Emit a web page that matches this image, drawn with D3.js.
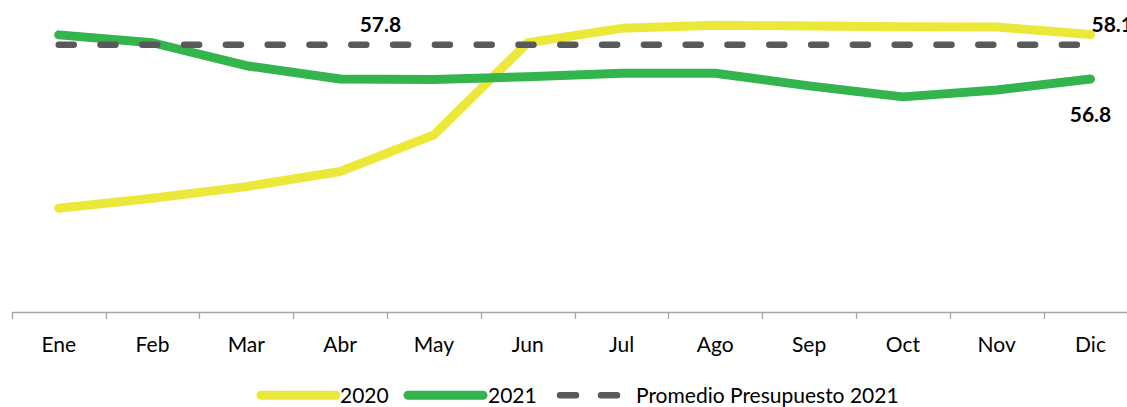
<!DOCTYPE html>
<html>
<head>
<meta charset="utf-8">
<script src="https://cdn.jsdelivr.net/npm/d3@7"></script>
<style>
  html, body { margin: 0; padding: 0; background: #fff; }
  svg { display: block; }
  text { font-family: Lato, "Open Sans", sans-serif; fill: #000; }
</style>
</head>
<body>
<svg id="chart" width="1127" height="407"></svg>
<script>
const months = ["Ene","Feb","Mar","Abr","May","Jun","Jul","Ago","Sep","Oct","Nov","Dic"];
const values2020 = [53.03, 53.32, 53.66, 54.10, 55.17, 57.86, 58.28, 58.37, 58.35, 58.33, 58.32, 58.10];
const values2021 = [58.09, 57.86, 57.19, 56.80, 56.79, 56.87, 56.97, 56.97, 56.60, 56.28, 56.48, 56.80];
const budgetAvg = 57.8;
const seriesNames = ["2020", "2021", "Promedio Presupuesto 2021"];
const yDomain = [50, 59];

const colors = { y2020: "#ECE83A", y2021: "#33B44C", avg: "#595959", axis: "#A6A6A6" };

const svg = d3.select("#chart");
const W = 1127, H = 407;

const band = d3.scaleBand().domain(months).range([11.8, 1137.4]).paddingInner(0).paddingOuter(0);
const x = d => band(d) + band.bandwidth() / 2;
const y = d3.scaleLinear().domain(yDomain).range([312, 3.7]);

// x axis
const axisY = y(yDomain[0]);
const axisG = svg.append("g").attr("transform", `translate(0,${axisY})`);
axisG.append("line").attr("x1", band.range()[0]).attr("x2", W + 20).attr("y1", 0.5).attr("y2", 0.5)
  .attr("stroke", colors.axis).attr("stroke-width", 1.3);
axisG.selectAll("line.tick").data(months).enter().append("line").attr("class", "tick")
  .attr("x1", d => Math.round(band(d)) + 0.5).attr("x2", d => Math.round(band(d)) + 0.5)
  .attr("y1", 0).attr("y2", 7).attr("stroke", colors.axis).attr("stroke-width", 1.3);
axisG.selectAll("text").data(months).enter().append("text")
  .attr("x", d => x(d)).attr("y", 39.5).attr("text-anchor", "middle")
  .style("font-size", "21px").text(d => d);

// lines
const line = d3.line().x((d, i) => x(months[i])).y(d => y(d));

svg.append("path").datum(values2020).attr("d", line)
  .attr("fill", "none").attr("stroke", colors.y2020).attr("stroke-width", 9)
  .attr("stroke-linecap", "round").attr("stroke-linejoin", "round");

svg.append("path").datum(values2021).attr("d", line)
  .attr("fill", "none").attr("stroke", colors.y2021).attr("stroke-width", 9)
  .attr("stroke-linecap", "round").attr("stroke-linejoin", "round");

svg.append("path").datum(months.map(() => budgetAvg)).attr("d", line)
  .attr("fill", "none").attr("stroke", colors.avg).attr("stroke-width", 6.5)
  .attr("stroke-linecap", "round").attr("stroke-dasharray", "15,26.8");

// data labels
const step = band.step();
svg.append("text").attr("x", x("Abr") + step * 0.43).attr("y", y(budgetAvg) - 12.5)
  .attr("text-anchor", "middle").style("font-size", "21px").style("font-weight", "bold")
  .text(d3.format(".1f")(budgetAvg));
svg.append("text").attr("x", x("Dic") + 1).attr("y", y(values2020[11]) - 3)
  .attr("text-anchor", "start").style("font-size", "21px").style("font-weight", "bold")
  .text(d3.format(".1f")(values2020[11]));
svg.append("text").attr("x", x("Dic")).attr("y", y(values2021[11]) + 43)
  .attr("text-anchor", "middle").style("font-size", "21px").style("font-weight", "bold")
  .text(d3.format(".1f")(values2021[11]));

// legend
const legendY = 395.3;
const legend = [
  { name: seriesNames[0], color: colors.y2020, x1: 261, x2: 336, tx: 340, dash: null, w: 9 },
  { name: seriesNames[1], color: colors.y2021, x1: 408, x2: 483, tx: 488, dash: null, w: 9 },
  { name: seriesNames[2], color: colors.avg, x1: 560, x2: 620, tx: 636, dash: "16,25", w: 6.5 }
];
const lg = svg.append("g");
legend.forEach(l => {
  const ln = lg.append("line").attr("x1", l.x1).attr("x2", l.x2).attr("y1", legendY).attr("y2", legendY)
    .attr("stroke", l.color).attr("stroke-width", l.w).attr("stroke-linecap", "round");
  if (l.dash) ln.attr("stroke-dasharray", l.dash);
  lg.append("text").attr("x", l.tx).attr("y", legendY + 7.5).style("font-size", "21px").text(l.name);
});
</script>
</body>
</html>
